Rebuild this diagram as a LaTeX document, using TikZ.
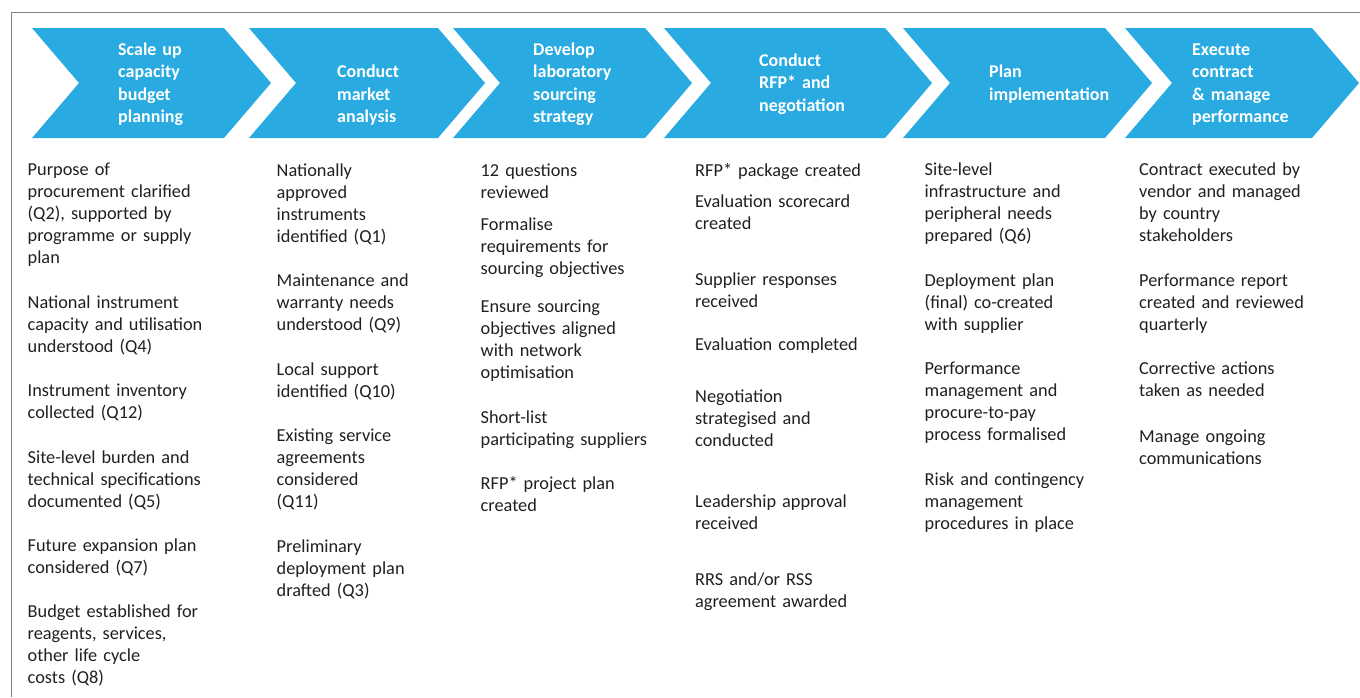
\documentclass[tikz,border=0pt]{standalone}
\usepackage{fontspec}
\setmainfont{Carlito}
\definecolor{stepblue}{HTML}{29ABE2}
\definecolor{bodytext}{HTML}{231F20}

\begin{document}
\begin{tikzpicture}[x=1pt,y=-1pt,
    head/.style={anchor=base west, inner sep=0pt, text width=200pt, align=left,
      text=white, font=\bfseries\fontsize{18}{22.5}\selectfont},
    item/.style={anchor=base west, inner sep=0pt, text width=230pt, align=left,
      text=bodytext, font=\fontsize{18.3}{22.2}\selectfont}]
  \useasboundingbox (0,0) rectangle (1360,697);
  \draw[gray, line width=1.2pt] (11.7,697) -- (11.7,12.7) -- (1360,12.7);
  % the six chevrons (left edge / right corner)
  \foreach \l/\r in {32/224, 249/438, 453/645, 664/885, 903/1105, 1125/1312}{
    \fill[stepblue] (\l,28) -- (\r,28) -- (\r+47,83) -- (\r,138) -- (\l,138) -- (\l+47,83) -- cycle;
  }
  \node[head] (budget) at (118,55) {Scale up\\capacity\\budget\\planning};
  \node[head] (market) at (337,77.5) {Conduct\\market\\analysis};
  \node[head] (sourcing) at (533,55) {Develop\\laboratory\\sourcing\\strategy};
  \node[head] (rfp) at (759,66) {Conduct\\RFP* and\\negotiation};
  \node[head] (plan) at (989,77.5) {Plan\\implementation};
  \node[head] (execute) at (1192,55) {Execute\\contract\\\& manage\\performance};

  % column 1
  \node[item] (b1) at (27.5,175) {Purpose of\\procurement clarified\\(Q2), supported by\\programme or supply\\plan};
  \node[item] (b2) at (27.5,308) {National instrument\\capacity and utilisation\\understood (Q4)};
  \node[item] (b3) at (27.5,396) {Instrument inventory\\collected (Q12)};
  \node[item] (b4) at (27.5,463) {Site-level burden and\\technical specifications\\documented (Q5)};
  \node[item] (b5) at (27.5,551) {Future expansion plan\\considered (Q7)};
  \node[item] (b6) at (27.5,617) {Budget established for\\reagents, services,\\other life cycle\\costs (Q8)};

  % column 2
  \node[item] (m1) at (276.5,176) {Nationally\\approved\\instruments\\identified (Q1)};
  \node[item] (m2) at (276.5,286) {Maintenance and\\warranty needs\\understood (Q9)};
  \node[item] (m3) at (276.5,375) {Local support\\identified (Q10)};
  \node[item] (m4) at (276.5,441) {Existing service\\agreements\\considered\\(Q11)};
  \node[item] (m5) at (276.5,552) {Preliminary\\deployment plan\\drafted (Q3)};

  % column 3
  \node[item] (s1) at (480.5,176) {12 questions\\reviewed};
  \node[item] (s2) at (480.5,230) {Formalise\\requirements for\\sourcing objectives};
  \node[item] (s3) at (480.5,312) {Ensure sourcing\\objectives aligned\\with network\\optimisation};
  \node[item] (s4) at (480.5,423) {Short-list\\participating suppliers};
  \node[item] (s5) at (480.5,489) {RFP* project plan\\created};

  % column 4
  \node[item] (r1) at (695,176) {RFP* package created};
  \node[item] (r2) at (695,207) {Evaluation scorecard\\created};
  \node[item] (r3) at (695,285) {Supplier responses\\received};
  \node[item] (r4) at (695,350) {Evaluation completed};
  \node[item] (r5) at (695,402) {Negotiation\\strategised and\\conducted};
  \node[item] (r6) at (695,507) {Leadership approval\\received};
  \node[item] (r7) at (695,585) {RRS and/or RSS\\agreement awarded};

  % column 5
  \node[item] (i1) at (924.5,175) {Site-level\\infrastructure and\\peripheral needs\\prepared (Q6)};
  \node[item] (i2) at (924.5,286) {Deployment plan\\(final) co-created\\with supplier};
  \node[item] (i3) at (924.5,374) {Performance\\management and\\procure-to-pay\\process formalised};
  \node[item] (i4) at (924.5,485) {Risk and contingency\\management\\procedures in place};

  % column 6
  \node[item] (e1) at (1139,175) {Contract executed by\\vendor and managed\\by country\\stakeholders};
  \node[item] (e2) at (1139,286) {Performance report\\created and reviewed\\quarterly};
  \node[item] (e3) at (1139,374) {Corrective actions\\taken as needed};
  \node[item] (e4) at (1139,442) {Manage ongoing\\communications};
\end{tikzpicture}
\end{document}
